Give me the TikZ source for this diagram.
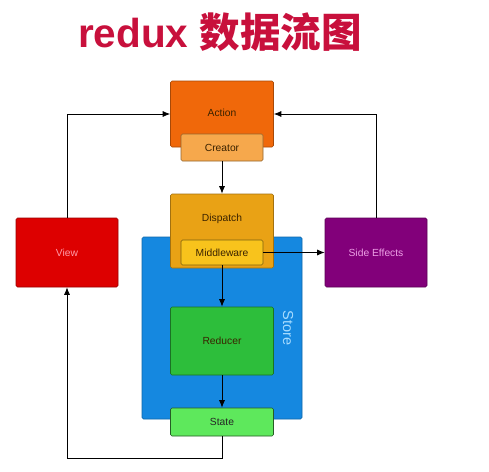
\documentclass[tikz,border=0pt]{standalone}
\usepackage{fontspec}
\setmainfont{Liberation Sans}
\newfontfamily\cjkfont{Noto Sans CJK SC}
\usetikzlibrary{arrows.meta}
\definecolor{titlecol}{HTML}{C8103C}
\definecolor{actioncol}{HTML}{F0680A}
\definecolor{creatorcol}{HTML}{F6A84C}
\definecolor{dispatchcol}{HTML}{E9A215}
\definecolor{middlecol}{HTML}{F8C31C}
\definecolor{storecol}{HTML}{1588E0}
\definecolor{storetext}{HTML}{A8DCFF}
\definecolor{reducercol}{HTML}{2DBE3B}
\definecolor{statecol}{HTML}{5EE85C}
\definecolor{viewcol}{HTML}{DD0000}
\definecolor{sidecol}{HTML}{82007A}
\definecolor{darktext}{HTML}{3A2200}
\definecolor{viewtext}{HTML}{FF9AA8}
\definecolor{sidetext}{HTML}{EDA0E6}
\begin{document}
\begin{tikzpicture}[x=1pt,y=-1pt,
  box/.style={rectangle,rounded corners=1.5pt,line width=0.6pt,inner sep=0pt,
    font=\fontsize{10.3}{12}\selectfont},
  conn/.style={line width=0.8pt,black},
  arr/.style={conn,-{Latex[length=7.5pt,width=6pt]}}]
\useasboundingbox[fill=white] (0,0) rectangle (489,471);
\node[anchor=base,text=titlecol,font=\fontsize{40.5}{44}\selectfont\bfseries] (title) at (220,47) {redux {\cjkfont\bfseries 数据流图}};
% store background
\node[box,fill=storecol,draw=storecol!75!black,minimum width=160pt,minimum height=182pt] (store) at (222,328) {};
\node[rotate=-90,text=storetext,font=\fontsize{14.5}{16}\selectfont] (storelabel) at (288,328) {Store};
% action
\node[box,fill=actioncol,draw=actioncol!70!black,minimum width=103pt,minimum height=66pt] (action) at (222,114) {};
\node[text=darktext,font=\fontsize{10.3}{12}\selectfont] (actionlabel) at (222,113) {Action};
\node[box,fill=creatorcol,draw=creatorcol!60!black,minimum width=82pt,minimum height=27pt,text=darktext] (creator) at (222,147.5) {Creator};
% dispatch
\node[box,fill=dispatchcol,draw=dispatchcol!70!black,minimum width=103pt,minimum height=74pt] (dispatch) at (222,231) {};
\node[text=darktext,font=\fontsize{10.3}{12}\selectfont] (dispatchlabel) at (222,219) {Dispatch};
\node[box,fill=middlecol,draw=middlecol!50!black,minimum width=82pt,minimum height=25pt,text=darktext] (middle) at (222,252.5) {Middleware};
% reducer / state
\node[box,fill=reducercol,draw=reducercol!60!black,minimum width=103pt,minimum height=68pt,text=darktext] (reducer) at (222,341) {Reducer};
\node[box,fill=statecol,draw=statecol!40!black,minimum width=103pt,minimum height=28pt,text=black!85] (state) at (222,422) {State};
% view / side effects
\node[box,fill=viewcol,draw=viewcol!70!black,minimum width=102pt,minimum height=69pt,text=viewtext] (view) at (67,252.5) {View};
\node[box,fill=sidecol,draw=sidecol!70!black,minimum width=102pt,minimum height=69pt,text=sidetext] (side) at (376,252.5) {Side Effects};
% connectors
\coordinate (loop) at (222,458);
\draw[arr] (view.north) |- (action.west);
\draw[arr] (side.north) |- (action.east);
\draw[arr] (creator.south) -- (dispatch.north);
\draw[arr] (middle.east) -- (side.west);
\draw[arr] (middle.south) -- (reducer.north);
\draw[arr] (reducer.south) -- (state.north);
\draw[arr] (state.south) -- (loop) -| (view.south);
\end{tikzpicture}
\end{document}
